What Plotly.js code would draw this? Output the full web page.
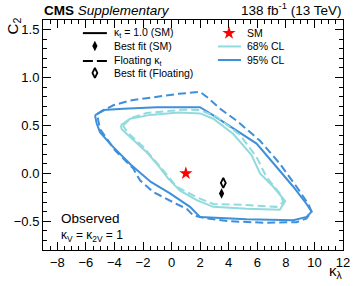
<!DOCTYPE html>
<html>
<head>
<meta charset="utf-8">
<script src="https://cdn.plot.ly/plotly-3.0.1.min.js"></script>
<style>html,body{margin:0;padding:0;background:#fff;}#chart{width:357px;height:286px;}</style>
</head>
<body>
<div id="chart"></div>
<script>
// 95% CL, kappa_t = 1 (SM) — solid
var x95SM = [-5.36, -4.78, -3.38, -1.04, 0.82, 1.99, 2.92, 4.32, 5.95, 7.35, 8.52, 9.45, 9.8, 9.45, 8.52, 5.25, 2.45, 1.99, 1.29, -0.11, -1.45, -2.85, -4.25, -5.01, -5.24, -5.36];
var y95SM = [0.605, 0.66, 0.675, 0.69, 0.69, 0.69, 0.605, 0.47, 0.31, 0.066, -0.14, -0.32, -0.40, -0.455, -0.49, -0.48, -0.465, -0.455, -0.35, -0.21, -0.09, 0.09, 0.30, 0.43, 0.52, 0.605];
// 95% CL, floating kappa_t — dashed
var x95FL = [-5.2, -4.54, -4.08, -2.91, -1.04, 0.5, 1.99, 2.45, 3.39, 4.55, 6.19, 7.58, 8.75, 9.57, 9.8, 9.45, 8.75, 6.42, 4.09, 2.45, 1.52, 1.06, 0.35, -1.28, -2.21, -2.68, -3.96, -5.0, -5.13, -5.2];
var y95FL = [0.62, 0.675, 0.71, 0.76, 0.80, 0.83, 0.85, 0.80, 0.675, 0.55, 0.34, 0.10, -0.14, -0.32, -0.40, -0.47, -0.51, -0.515, -0.50, -0.47, -0.44, -0.37, -0.32, -0.195, -0.073, 0.05, 0.24, 0.46, 0.55, 0.62];
// 68% CL, kappa_t = 1 (SM) — solid
var x68SM = [-3.55, -2.9, -1.5, 0.5, 2.0, 2.92, 4.32, 5.6, 6.19, 7.12, 7.95, 7.58, 5.25, 2.92, 1.76, 0.59, -0.23, -1.04, -1.74, -2.68, -3.49, -3.55];
var y68SM = [0.50, 0.57, 0.61, 0.635, 0.625, 0.57, 0.41, 0.19, 0.0, -0.14, -0.29, -0.38, -0.37, -0.35, -0.28, -0.18, -0.055, 0.10, 0.22, 0.345, 0.46, 0.50];
// 68% CL, floating kappa_t — dashed
var x68FL = [-3.4, -2.85, -1.74, 0.9, 2.0, 3.15, 4.79, 5.95, 6.65, 7.58, 7.82, 7.35, 5.25, 2.92, 1.76, 0.35, -0.58, -1.98, -3.1, -3.4];
var y68FL = [0.50, 0.575, 0.63, 0.665, 0.66, 0.59, 0.40, 0.17, -0.04, -0.21, -0.30, -0.35, -0.33, -0.32, -0.25, -0.14, 0.03, 0.275, 0.43, 0.50];
// points
var smPoint = {x: [1.0], y: [0.0]};
var bestFitSM = {x: [3.5], y: [-0.21]};
var bestFitFL = {x: [3.62], y: [-0.10]};
// axis ticks
var xTickVals = [-8, -6, -4, -2, 0, 2, 4, 6, 8, 10, 12];
var yTickVals = [-0.5, 0.0, 0.5, 1.0, 1.5];
// legend labels
var legLeft = ["κ<sub>t</sub> = 1.0 (SM)", "Best fit (SM)", "Floating κ<sub>t</sub>", "Best fit (Floating)"];
var legRight = ["SM", "68% CL", "95% CL"];

var C95 = '#3f90da', C68 = '#92dadd';
var FONT = 'Liberation Sans, Arial, Helvetica, sans-serif';

var traces = [
  {x: x95SM, y: y95SM, mode: 'lines', line: {color: C95, width: 2}, hoverinfo: 'skip'},
  {x: x95FL, y: y95FL, mode: 'lines', line: {color: C95, width: 2, dash: '8px,4px'}, hoverinfo: 'skip'},
  {x: x68SM, y: y68SM, mode: 'lines', line: {color: C68, width: 2}, hoverinfo: 'skip'},
  {x: x68FL, y: y68FL, mode: 'lines', line: {color: C68, width: 2, dash: '8px,4px'}, hoverinfo: 'skip'},
  {x: smPoint.x, y: smPoint.y, mode: 'markers', marker: {symbol: 'star', size: 10, color: '#ff0000', line: {width: 0}}},
  {x: bestFitSM.x, y: bestFitSM.y, mode: 'markers', marker: {symbol: 'diamond-tall', size: 7.5, color: '#000'}},
  {x: bestFitFL.x, y: bestFitFL.y, mode: 'markers', marker: {symbol: 'diamond-tall-open', size: 7, color: '#000', line: {width: 1.8, color: '#000'}}}
];

// legend samples, drawn on an overlay axis with range [0,1]
var LX0 = 0.133, LX1 = 0.213, LXM = 0.173;
var RX0 = 0.583, RX1 = 0.66, RXM = 0.62;
var rowL = [0.943, 0.887, 0.822, 0.770];
var rowR = [0.943, 0.885, 0.826];
traces.push(
  {x: [LX0, LX1], y: [rowL[0], rowL[0]], xaxis: 'x2', yaxis: 'y2', mode: 'lines', line: {color: '#000', width: 2}},
  {x: [LXM], y: [rowL[1]], xaxis: 'x2', yaxis: 'y2', mode: 'markers', marker: {symbol: 'diamond-tall', size: 7.5, color: '#000'}},
  {x: [LX0, LX1], y: [rowL[2], rowL[2]], xaxis: 'x2', yaxis: 'y2', mode: 'lines', line: {color: '#000', width: 2, dash: '10px,4px'}},
  {x: [LXM], y: [rowL[3]], xaxis: 'x2', yaxis: 'y2', mode: 'markers', marker: {symbol: 'diamond-tall-open', size: 7, color: '#000', line: {width: 1.8, color: '#000'}}},
  {x: [RXM], y: [rowR[0]], xaxis: 'x2', yaxis: 'y2', mode: 'markers', marker: {symbol: 'star', size: 10, color: '#ff0000', line: {width: 0}}},
  {x: [RX0, RX1], y: [rowR[1], rowR[1]], xaxis: 'x2', yaxis: 'y2', mode: 'lines', line: {color: C68, width: 2}},
  {x: [RX0, RX1], y: [rowR[2], rowR[2]], xaxis: 'x2', yaxis: 'y2', mode: 'lines', line: {color: C95, width: 2}}
);

var annotations = [];
legLeft.forEach(function (t, i) {
  annotations.push({text: t, xref: 'paper', yref: 'paper', x: 0.23, y: rowL[i], xanchor: 'left', yanchor: 'middle', showarrow: false, font: {family: FONT, size: 10.5, color: '#000'}});
});
legRight.forEach(function (t, i) {
  annotations.push({text: t, xref: 'paper', yref: 'paper', x: 0.673, y: rowR[i], xanchor: 'left', yanchor: 'middle', showarrow: false, font: {family: FONT, size: 10.5, color: '#000'}});
});
annotations.push(
  {text: '<b>CMS</b> <i>Supplementary</i>', xref: 'paper', yref: 'paper', x: -0.003, y: 1.0, xanchor: 'left', yanchor: 'bottom', showarrow: false, font: {family: FONT, size: 13.5, color: '#000'}},
  {text: '138 fb<sup>-1</sup> (13 TeV)', xref: 'paper', yref: 'paper', x: 1.0, y: 1.0, xanchor: 'right', yanchor: 'bottom', showarrow: false, font: {family: FONT, size: 13.5, color: '#000'}},
  {text: 'C<sub>2</sub>', xref: 'paper', yref: 'paper', x: -0.1, y: 0.972, xanchor: 'center', yanchor: 'middle', textangle: -90, showarrow: false, font: {family: FONT, size: 15, color: '#000'}},
  {text: 'κ<sub>λ</sub>', xref: 'paper', yref: 'paper', x: 0.978, y: -0.095, xanchor: 'center', yanchor: 'middle', showarrow: false, font: {family: FONT, size: 15, color: '#000'}},
  {text: 'Observed', xref: 'paper', yref: 'paper', x: 0.052, y: 0.135, xanchor: 'left', yanchor: 'middle', showarrow: false, font: {family: FONT, size: 13.5, color: '#000'}},
  {text: 'κ<sub>V</sub> = κ<sub>2V</sub> = 1', xref: 'paper', yref: 'paper', x: 0.052, y: 0.063, xanchor: 'left', yanchor: 'middle', showarrow: false, font: {family: FONT, size: 12, color: '#000'}}
);

var axCommon = {
  showline: true, linecolor: '#000', linewidth: 1, mirror: 'allticks',
  ticks: 'inside', ticklen: 8, tickwidth: 1, tickcolor: '#000',
  showgrid: false, zeroline: false, fixedrange: true,
  tickfont: {family: FONT, size: 13, color: '#000'}
};

var layout = {
  width: 357, height: 286,
  margin: {l: 43, r: 14, t: 20, b: 36, pad: 0},
  paper_bgcolor: '#fff', plot_bgcolor: '#fff',
  showlegend: false,
  xaxis: Object.assign({}, axCommon, {range: [-9, 12], tickmode: 'array', tickvals: xTickVals,
    minor: {dtick: 0.5, tick0: 0, ticks: 'inside', ticklen: 4, tickcolor: '#000', tickwidth: 1, showgrid: false}}),
  yaxis: Object.assign({}, axCommon, {range: [-0.8, 1.6], tickmode: 'array', tickvals: yTickVals, tickformat: '.1f',
    minor: {dtick: 0.1, tick0: 0, ticks: 'inside', ticklen: 4, tickcolor: '#000', tickwidth: 1, showgrid: false}}),
  xaxis2: {overlaying: 'x', range: [0, 1], visible: false, fixedrange: true},
  yaxis2: {overlaying: 'y', range: [0, 1], visible: false, fixedrange: true},
  annotations: annotations
};

Plotly.newPlot('chart', traces, layout, {staticPlot: true, displayModeBar: false});
</script>
</body>
</html>
